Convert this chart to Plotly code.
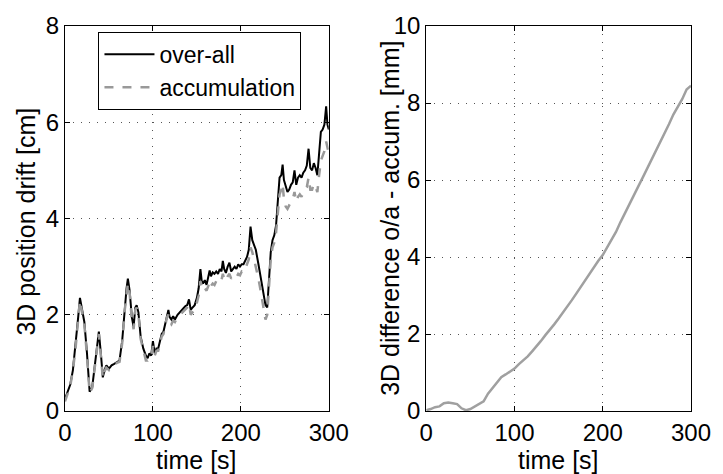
import plotly.graph_objects as go

# ---- data ----
time_left = [0, 3, 6, 9, 12, 15, 17, 19, 22, 25, 28, 31, 34, 36.5, 38.5, 41, 43, 45, 47, 50,
             53, 56, 59, 62, 65, 68, 70, 71.5, 73.5, 76, 78, 80, 81.5, 83.5, 86, 89, 92, 94, 96, 98,
             100, 102, 104, 106, 108, 110, 112, 114, 116, 117.6, 119, 121, 123, 125, 128, 131, 134, 137, 139, 141,
             143, 145, 147.5, 150, 152, 154, 155.5, 157, 159, 161, 163, 164.5, 166, 168, 170, 172, 174, 176, 178, 179.5,
             181, 183, 185, 187, 189, 191, 193, 195, 197, 199, 201, 203, 205, 207, 209, 211, 213, 215, 217, 220,
             222, 224, 226, 228, 230, 232, 234, 236, 238, 240, 242, 244, 246, 247.5, 249, 251, 253, 255, 257, 259,
             261, 263, 265, 267, 269, 271, 273, 275, 277, 279, 281, 283, 285, 287, 289, 291, 293, 295, 297, 298.5, 300]

overall = [0.25, 0.4, 0.55, 0.85, 1.35, 1.95, 2.35, 2.15, 1.85, 1.2, 0.4, 0.5, 1.0, 1.45, 1.65, 1.15, 0.7, 0.85, 0.95, 0.88,
           0.95, 0.98, 1.02, 1.05, 1.45, 2.15, 2.55, 2.75, 2.5, 1.95, 1.75, 2.15, 2.2, 2.05, 1.55, 1.3, 1.15, 1.1, 1.2, 1.15,
           1.45, 1.2, 1.3, 1.3, 1.45, 1.6, 1.65, 1.8, 2.0, 2.1, 1.95, 1.9, 1.97, 1.9, 2.0, 2.05, 2.12, 2.18, 2.2, 2.32,
           2.1, 2.15, 2.2, 2.35, 2.55, 2.95, 2.7, 2.65, 2.72, 2.62, 2.8, 2.92, 2.8, 2.88, 2.85, 2.9, 2.85, 2.95, 2.9, 3.12,
           2.95, 2.87, 3.0, 3.08, 2.9, 2.95, 3.0, 2.95, 3.05, 3.0, 3.05, 3.05, 3.12, 3.2, 3.35, 3.83, 3.55, 3.45, 3.35, 3.05,
           2.85, 2.65, 2.4, 2.2, 2.15, 2.75, 3.3, 3.55, 3.65, 3.85, 4.3, 4.85, 4.9, 5.12, 4.8, 4.65, 4.55, 4.6, 4.7, 4.75,
           5.0, 4.7, 4.85, 4.9, 4.85, 4.95, 5.0, 5.1, 5.45, 5.05, 5.0, 5.15, 5.05, 4.9, 5.4, 5.8, 5.85, 5.95, 6.33, 5.95, 5.85]

accumulation = [0.2, 0.38, 0.52, 0.85, 1.3, 1.9, 2.3, 2.1, 1.8, 1.15, 0.38, 0.48, 0.95, 1.4, 1.6, 1.1, 0.68, 0.82, 0.9, 0.85,
                0.92, 0.95, 1.0, 1.02, 1.4, 2.1, 2.5, 2.65, 2.45, 1.9, 1.7, 2.1, 2.15, 2.0, 1.5, 1.25, 1.05, 1.05, 1.1, 1.1,
                1.35, 1.15, 1.25, 1.25, 1.4, 1.55, 1.6, 1.75, 1.95, 2.0, 1.85, 1.8, 1.88, 1.85, 1.95, 2.0, 2.05, 2.12, 2.15, 2.22,
                2.0, 2.05, 2.1, 2.25, 2.4, 2.7, 2.6, 2.5, 2.55, 2.5, 2.6, 2.7, 2.6, 2.65, 2.62, 2.7, 2.68, 2.75, 2.72, 2.85,
                2.75, 2.7, 2.8, 2.85, 2.75, 2.8, 2.82, 2.78, 2.85, 2.82, 2.9, 2.88, 2.95, 3.05, 3.15, 3.4, 3.3, 3.15, 3.0, 2.75,
                2.55, 2.35, 2.1, 1.9, 2.0, 2.6, 3.15, 3.4, 3.5, 3.7, 4.1, 4.5, 4.6, 4.72, 4.4, 4.25, 4.2, 4.28, 4.35, 4.4,
                4.55, 4.35, 4.45, 4.5, 4.45, 4.55, 4.6, 4.65, 4.85, 4.6, 4.6, 4.72, 4.65, 4.55, 4.9, 5.2, 5.3, 5.4, 5.6, 5.45, 5.35]

time_right = [0, 5, 10, 15, 20, 25, 30, 35, 40, 45, 50, 55, 60, 65, 70, 75, 80, 85, 90, 95,
              100, 105, 110, 115, 120, 125, 130, 135, 140, 145, 150, 155, 160, 165, 170, 175, 180, 185, 190, 195,
              200, 205, 210, 215, 220, 225, 230, 235, 240, 245, 250, 255, 260, 265, 270, 275, 280, 285, 290, 295, 300]
difference = [0.02, 0.05, 0.1, 0.12, 0.2, 0.22, 0.2, 0.18, 0.07, 0.02, 0.05, 0.12, 0.18, 0.25, 0.45, 0.6, 0.75, 0.88, 0.95, 1.02,
              1.1, 1.22, 1.32, 1.42, 1.55, 1.68, 1.82, 1.97, 2.1, 2.25, 2.4, 2.55, 2.72, 2.88, 3.05, 3.22, 3.4, 3.58, 3.72, 3.9,
              4.05, 4.25, 4.45, 4.65, 4.9, 5.12, 5.35, 5.6, 5.82, 6.05, 6.28, 6.5, 6.75, 6.95, 7.2, 7.45, 7.7, 7.9, 8.1, 8.35, 8.45]

x_ticks = [0, 100, 200, 300]
y_ticks_left = [0, 2, 4, 6, 8]
y_ticks_right = [0, 2, 4, 6, 8, 10]

FONT = "Liberation Sans, Arial, sans-serif"
W, H = 723, 474
L, R, T, B = 65, 22, 16, 63
PW, PH = W - L - R, H - T - B

def px(x):
    return (x - L) / PW

def py(y):
    return (H - B - y) / PH

fig = go.Figure()
fig.add_trace(go.Scatter(x=time_left, y=overall, mode="lines", name="over-all",
                         line=dict(color="black", width=2), xaxis="x", yaxis="y"))
fig.add_trace(go.Scatter(x=time_left, y=accumulation, mode="lines", name="accumulation",
                         line=dict(color="#999999", width=2.5, dash="dash"), xaxis="x", yaxis="y"))
fig.add_trace(go.Scatter(x=time_right, y=difference, mode="lines", showlegend=False,
                         line=dict(color="#a0a0a0", width=2.5), xaxis="x2", yaxis="y2"))

axis_common = dict(showline=True, linecolor="black", linewidth=1, mirror="ticks",
                   ticks="inside", ticklen=5, tickcolor="black",
                   showgrid=True, gridcolor="#555555", griddash="1px,7px", gridwidth=1,
                   zeroline=False, tickfont=dict(family=FONT, size=24, color="black"))

fig.update_layout(
    width=W, height=H,
    margin=dict(l=L, r=R, t=T, b=B),
    paper_bgcolor="white", plot_bgcolor="white",
    font=dict(family=FONT, color="black"),
    xaxis=dict(domain=[0, px(333)], range=[0, 300], tickvals=x_ticks, anchor="y", **axis_common),
    yaxis=dict(domain=[0, 1], range=[0, 8], tickvals=y_ticks_left, anchor="x", **axis_common),
    xaxis2=dict(domain=[px(432), 1], range=[0, 300], tickvals=x_ticks, anchor="y2", **axis_common),
    yaxis2=dict(domain=[0, 1], range=[0, 10], tickvals=y_ticks_right, anchor="x2", **axis_common),
    legend=dict(x=px(99), y=py(22), xanchor="left", yanchor="top",
                bgcolor="white", bordercolor="black", borderwidth=1,
                font=dict(family=FONT, size=23, color="black"),
                tracegroupgap=0, itemwidth=50),
    showlegend=True,
)

annotations = [
    dict(text="time [s]", x=px(199), y=py(461), xref="paper", yref="paper",
         showarrow=False, font=dict(family=FONT, size=25), xanchor="center", yanchor="middle"),
    dict(text="time [s]", x=px(566), y=py(461), xref="paper", yref="paper",
         showarrow=False, font=dict(family=FONT, size=25), xanchor="center", yanchor="middle"),
    dict(text="3D position drift [cm]", x=px(25), y=py(217), xref="paper", yref="paper",
         showarrow=False, textangle=-90, font=dict(family=FONT, size=25), xanchor="center", yanchor="middle"),
    dict(text="3D difference o/a - accum. [mm]", x=px(395), y=py(213), xref="paper", yref="paper",
         showarrow=False, textangle=-90, font=dict(family=FONT, size=25), xanchor="center", yanchor="middle"),
]
fig.update_layout(annotations=annotations)

fig.write_html("out.html")
